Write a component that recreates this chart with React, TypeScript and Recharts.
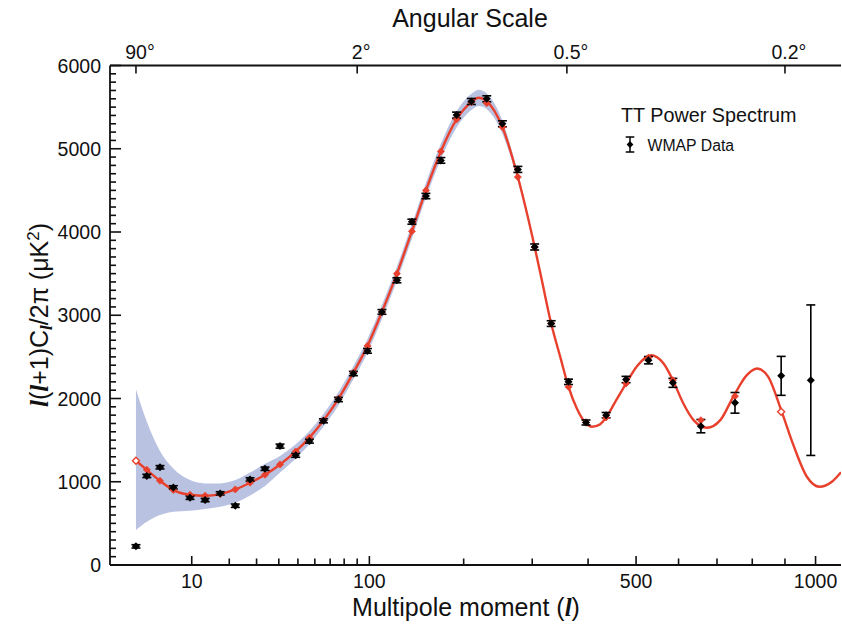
import React from "react";
import { ComposedChart, Line, Area, Scatter, XAxis, YAxis, ErrorBar } from "recharts";

// ---------- data ----------
// WMAP binned data points: multipole l, D_l = l(l+1)C_l/2π (μK²), 1σ error
const dataL = [2, 3, 4.55, 6.53, 9.64, 13.1, 17.2, 22, 27.4, 33.6, 40.6, 48.8, 56.7, 65.5, 75.8, 87, 98.4, 111, 125, 140, 155, 172, 191, 210, 231, 253.5, 277, 304, 332, 363, 396, 436, 478, 528, 586, 657, 750, 888, 984];
const dataD = [224, 1070, 1174, 932, 808, 780, 860, 712, 1028, 1156, 1428, 1318, 1488, 1732, 1988, 2300, 2572, 3040, 3420, 4124, 4432, 4860, 5404, 5568, 5600, 5300, 4752, 3820, 2900, 2200, 1712, 1800, 2228, 2460, 2188, 1668, 1948, 2272, 2220];
const dataErr = [20, 20, 20, 20, 20, 20, 20, 20, 20, 20, 24, 24, 24, 24, 26, 26, 28, 28, 30, 30, 32, 34, 36, 36, 36, 36, 36, 36, 34, 32, 30, 32, 38, 44, 54, 80, 124, 234, 904];

// binned best-fit model (red diamonds); open marker where flagged
const modelL = [2, 3, 4.55, 6.53, 9.64, 13.1, 17.2, 22, 27.4, 33.6, 40.6, 48.8, 56.7, 65.5, 75.8, 87, 98.4, 111, 125, 140, 155, 172, 191, 210, 231, 253.5, 277, 304, 332, 363, 396, 436, 478, 528, 586, 657, 750, 888];
const modelD = [1252, 1144, 1012, 900, 844, 832, 852, 908, 988, 1084, 1208, 1364, 1530, 1736, 1996, 2310, 2632, 3040, 3500, 4008, 4500, 4968, 5352, 5560, 5548, 5260, 4660, 3820, 2900, 2140, 1712, 1772, 2180, 2490, 2220, 1740, 2028, 1840];
const modelOpen = [true, false, false, false, false, false, false, false, false, false, false, false, false, false, false, false, false, false, false, false, false, false, false, false, false, false, false, false, false, false, false, false, false, false, false, false, false, true];

// smooth theory curve
const theoryL = [2, 3, 4.55, 6.53, 9.64, 13.1, 17.2, 22, 27.4, 33.6, 40.6, 48.8, 56.7, 65.5, 75.8, 87, 98.4, 111, 125, 140, 155, 172, 191, 210, 219.5, 231, 253.5, 277, 304, 316, 332, 348, 363, 378.5, 396, 407.5, 424, 436, 455, 478, 502, 534, 563.5, 586, 612, 638, 673, 709, 746, 784, 815, 848, 888, 927, 971, 1013, 1056, 1088];
const theoryD = [1252, 1142, 1012, 900, 844, 832, 852, 908, 988, 1084, 1208, 1364, 1530, 1736, 1996, 2310, 2632, 3040, 3500, 4008, 4500, 4968, 5352, 5560, 5612, 5570, 5260, 4660, 3820, 3420, 2900, 2500, 2140, 1880, 1700, 1660, 1692, 1772, 1960, 2180, 2388, 2520, 2420, 2220, 1940, 1740, 1648, 1740, 2028, 2280, 2360, 2260, 1860, 1440, 1060, 940, 1000, 1115];

// cosmic-variance band (lower / upper edge)
const bandL = [2, 3, 4.55, 6.53, 9.64, 13.1, 17.2, 22, 27.4, 33.6, 40.6, 48.8, 56.7, 65.5, 75.8, 87, 98.4, 111, 125, 140, 155, 172, 191, 210, 219.5, 231, 253.5, 277, 304];
const bandLow = [420, 520, 600, 640, 652, 672, 700, 748, 836, 950, 1110, 1280, 1450, 1660, 1915, 2230, 2550, 2955, 3415, 3920, 4410, 4875, 5255, 5465, 5515, 5475, 5180, 4610, 3800];
const bandHigh = [2110, 1720, 1370, 1160, 1020, 980, 980, 1020, 1110, 1215, 1310, 1450, 1610, 1815, 2075, 2390, 2715, 3125, 3585, 4095, 4590, 5060, 5450, 5660, 5710, 5665, 5340, 4710, 3840];

// axis ticks
const xMajorL = [10, 100, 500, 1000];
const xMinorL = [20, 30, 40, 50, 60, 70, 80, 90, 200, 300, 400, 600, 700, 800, 900];
const angleTicksDeg = [90, 2, 0.5, 0.2];
const yMajor = [0, 1000, 2000, 3000, 4000, 5000, 6000];
const yTicks = Array.from({ length: 61 }, (_, i) => i * 100);
const xRangeL = [0.511, 1088];

// ---------- style ----------
const INK = "#111";
const FONT = "'Liberation Sans', Arial, Helvetica, sans-serif";
const SERIF = "'Liberation Serif', 'Times New Roman', serif";
const RED = "#e8402c";
const BAND = "#bac2e2";

// the figure's multipole axis is stretched as l^0.4
const warp = (l: number) => Math.pow(l, 0.4);
const unwarp = (v: number) => Math.pow(v, 2.5);

const xDomain = [warp(xRangeL[0]), warp(xRangeL[1])];
const xTicks = [...xMajorL, ...xMinorL].sort((a, b) => a - b).map(warp);
const topTicks = angleTicksDeg.map((d) => warp(180 / d));

const dataRows = dataL.map((l, i) => ({ x: warp(l), y: dataD[i], err: dataErr[i] }));
const modelRows = modelL.map((l, i) => ({ x: warp(l), y: modelD[i], open: modelOpen[i] }));
const theoryRows = theoryL.map((l, i) => ({ x: warp(l), y: theoryD[i] }));
const bandRows = bandL.map((l, i) => ({ x: warp(l), band: [bandLow[i], bandHigh[i]] }));

function BottomTick(props: any) {
  const { x, y, payload } = props;
  const l = Math.round(unwarp(payload.value));
  const major = xMajorL.includes(l);
  return (
    <g>
      <line x1={x} x2={x} y1={y} y2={y - (major ? 9 : 6.5)} stroke={INK} strokeWidth={1.6} />
      {major && (
        <text x={x} y={y + 23} textAnchor="middle" fontFamily={FONT} fontSize={19.5} fill={INK}>
          {l}
        </text>
      )}
    </g>
  );
}

function TopTick(props: any) {
  const { x, y, payload } = props;
  const l = unwarp(payload.value);
  const deg = +(180 / l).toFixed(1);
  return (
    <g>
      <line x1={x} x2={x} y1={y} y2={y + 8} stroke={INK} strokeWidth={1.6} />
      <text x={x + 4} y={y - 7} textAnchor="middle" fontFamily={FONT} fontSize={19.5} fill={INK}>
        {`${deg}°`}
      </text>
    </g>
  );
}

function LeftTick(props: any) {
  const { x, y, payload } = props;
  const v = payload.value;
  const major = yMajor.includes(v);
  return (
    <g>
      <line x1={x} x2={x + (major ? 11 : 6)} y1={y} y2={y} stroke={INK} strokeWidth={1.6} />
      {major && (
        <text x={x - 9} y={y + 7} textAnchor="end" fontFamily={FONT} fontSize={19.5} fill={INK}>
          {v}
        </text>
      )}
    </g>
  );
}

function RightTick(props: any) {
  const { x, y, payload } = props;
  const major = yMajor.includes(payload.value);
  return <line x1={x} x2={x - (major ? 10 : 5)} y1={y} y2={y} stroke={INK} strokeWidth={1.6} />;
}

const BlackMark = (p: any) => {
  const { cx, cy } = p;
  const s = 4;
  return <path d={`M${cx},${cy - s}L${cx + s},${cy}L${cx},${cy + s}L${cx - s},${cy}Z`} fill="#000" />;
};

const RedMark = (p: any) => {
  const { cx, cy, payload } = p;
  const s = 3.5;
  const d = `M${cx},${cy - s}L${cx + s},${cy}L${cx},${cy + s}L${cx - s},${cy}Z`;
  return payload && payload.open ? (
    <path d={d} fill="#fff" stroke={RED} strokeWidth={1.4} />
  ) : (
    <path d={d} fill={RED} stroke={RED} strokeWidth={0.8} />
  );
};

export default function App() {
  return (
    <div style={{ position: "absolute", left: 0, top: 0, width: 842, height: 630, background: "#fff" }}>
      <ComposedChart width={842} height={630} margin={{ top: 0, right: 1, bottom: 0, left: 0 }}>
        <XAxis
          xAxisId="b"
          orientation="bottom"
          type="number"
          dataKey="x"
          domain={xDomain}
          allowDataOverflow
          ticks={xTicks}
          interval={0}
          tick={(p: any) => <BottomTick {...p} />}
          tickLine={false}
          tickSize={0}
          tickMargin={0}
          axisLine={{ stroke: INK, strokeWidth: 1.8 }}
          height={65}
        />
        <XAxis
          xAxisId="t"
          orientation="top"
          type="number"
          dataKey="x"
          domain={xDomain}
          allowDataOverflow
          ticks={topTicks}
          interval={0}
          tick={(p: any) => <TopTick {...p} />}
          tickLine={false}
          tickSize={0}
          tickMargin={0}
          axisLine={{ stroke: INK, strokeWidth: 1.8 }}
          height={65.5}
        />
        <YAxis
          yAxisId="l"
          orientation="left"
          type="number"
          dataKey="y"
          domain={[0, 6000]}
          allowDataOverflow
          ticks={yTicks}
          interval={0}
          tick={(p: any) => <LeftTick {...p} />}
          tickLine={false}
          tickSize={0}
          tickMargin={0}
          axisLine={{ stroke: INK, strokeWidth: 1.8 }}
          width={110}
        />
        <YAxis
          yAxisId="r"
          orientation="right"
          type="number"
          dataKey="y"
          domain={[0, 6000]}
          allowDataOverflow
          ticks={yTicks}
          interval={0}
          tick={(p: any) => <RightTick {...p} />}
          tickLine={false}
          tickSize={0}
          tickMargin={0}
          axisLine={{ stroke: INK, strokeWidth: 1.8 }}
          width={0}
        />
        <Area
          data={bandRows}
          dataKey="band"
          xAxisId="t"
          yAxisId="r"
          type="monotone"
          stroke="none"
          fill={BAND}
          fillOpacity={1}
          isAnimationActive={false}
        />
        <Line
          data={theoryRows}
          dataKey="y"
          xAxisId="b"
          yAxisId="l"
          type="monotone"
          stroke={RED}
          strokeWidth={2.4}
          dot={false}
          isAnimationActive={false}
        />
        <Scatter data={modelRows} dataKey="y" xAxisId="b" yAxisId="l" shape={RedMark} isAnimationActive={false} />
        <Scatter data={dataRows} dataKey="y" xAxisId="b" yAxisId="l" shape={BlackMark} isAnimationActive={false}>
          <ErrorBar dataKey="err" direction="y" width={4.5} stroke="#000" strokeWidth={1.6} />
        </Scatter>
      </ComposedChart>
      <svg
        width={842}
        height={630}
        style={{ position: "absolute", left: 0, top: 0, pointerEvents: "none" }}
      >
        <text x={470} y={27} textAnchor="middle" fontFamily={FONT} fontSize={25} fill={INK}>
          Angular Scale
        </text>
        <text x={466} y={616} textAnchor="middle" fontFamily={FONT} fontSize={25} fill={INK}>
          Multipole moment (
          <tspan fontFamily={SERIF} fontStyle="italic" fontWeight="bold">l</tspan>)
        </text>
        <text transform="translate(48,315) rotate(-90)" textAnchor="middle" fontFamily={FONT} fontSize={25} fill={INK}>
          <tspan fontFamily={SERIF} fontStyle="italic" fontWeight="bold">l</tspan>
          <tspan>(</tspan>
          <tspan fontFamily={SERIF} fontStyle="italic" fontWeight="bold">l</tspan>
          <tspan>+1)C</tspan>
          <tspan fontFamily={SERIF} fontStyle="italic" fontWeight="bold" fontSize={17} dy={4}>l</tspan>
          <tspan dy={-4}>/2π (μK</tspan>
          <tspan fontSize={17} dy={-9}>2</tspan>
          <tspan dy={9}>)</tspan>
        </text>
        <text x={621} y={122} fontFamily={FONT} fontSize={19.8} fill={INK}>
          TT Power Spectrum
        </text>
        <g stroke="#000" strokeWidth={1.5}>
          <line x1={630} x2={630} y1={137} y2={152} />
          <line x1={625.7} x2={634.3} y1={137} y2={137} />
          <line x1={625.7} x2={634.3} y1={152} y2={152} />
        </g>
        <path d="M630,141L633.4,144.5L630,148L626.6,144.5Z" fill="#000" />
        <text x={647.5} y={151} fontFamily={FONT} fontSize={15.8} fill={INK}>
          WMAP Data
        </text>
      </svg>
    </div>
  );
}
